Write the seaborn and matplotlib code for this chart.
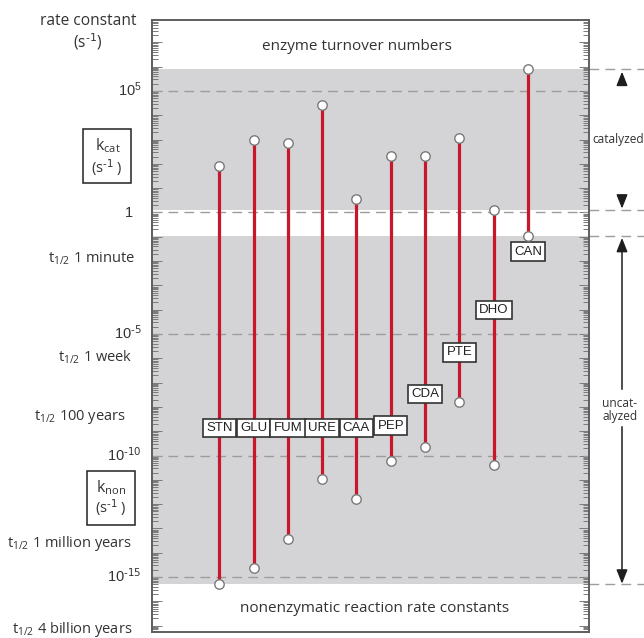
import numpy as np
import pandas as pd
import matplotlib
matplotlib.use("Agg")
import matplotlib.pyplot as plt
import seaborn as sns
from matplotlib.patches import Rectangle
from matplotlib.ticker import FixedLocator, NullFormatter

# ---- data -------------------------------------------------------------
enzymes = ["STN", "GLU", "FUM", "URE", "CAA", "PEP", "CDA", "PTE", "DHO", "CAN"]
# enzyme turnover numbers k_cat (s^-1)
kcat = [8.1e1, 1.0e3, 7.2e2, 2.6e4, 3.5, 2.2e2, 2.2e2, 1.2e3, 1.3, 8.1e5]
# nonenzymatic rate constants k_non (s^-1)
knon = [5.0e-16, 2.4e-15, 3.6e-14, 1.1e-11, 1.7e-12, 6.2e-11, 2.3e-10, 1.6e-8, 4.1e-11, 1.1e-1]

decade_values = [1e5, 1.0, 1e-5, 1e-10, 1e-15]
decade_labels = [r"10$^{5}$", "1", r"10$^{\text{-5}}$", r"10$^{\text{-10}}$", r"10$^{\text{-15}}$"]
halflife_labels = ["1 minute", "1 week", "100 years", "1 million years", "4 billion years"]

# ---- style ------------------------------------------------------------
sns.set_theme(style="white")
plt.rcParams["font.family"] = ["Open Sans", "DejaVu Sans"]
plt.rcParams["mathtext.default"] = "regular"
plt.rcParams["axes.unicode_minus"] = False

W, H = 644, 638
fig = plt.figure(figsize=(W / 100, H / 100), dpi=100)


def fx(px):
    return px / W


def fy(py):
    return 1 - py / H


ax = fig.add_axes([fx(152), fy(632), (589 - 152) / W, (632 - 20) / H])
ax.set_yscale("log")
ax.set_ylim(10 ** -17.26, 10 ** 7.92)
ax.set_xlim(-1.96, 10.78)

GRAY = "#d4d4d6"
RED = "#c8162b"
DASH = "#9c9c9c"

# catalyzed and uncatalyzed ranges
ax.axhspan(min(kcat), max(kcat), color=GRAY, lw=0, zorder=0)
ax.axhspan(min(knon), max(knon), color=GRAY, lw=0, zorder=0)

for v in decade_values:
    ax.axhline(v, color=DASH, lw=1.0, ls=(0, (7, 4.5)), zorder=1)

# stems from k_non up to k_cat
pos = np.arange(len(enzymes))
ax.vlines(pos, knon, kcat, color=RED, lw=2.3, zorder=2)

df = pd.DataFrame({
    "pos": np.concatenate([pos, pos]),
    "rate": np.concatenate([kcat, knon]),
    "kind": ["kcat"] * len(enzymes) + ["knon"] * len(enzymes),
})
sns.scatterplot(data=df, x="pos", y="rate", s=46, color="white",
                edgecolor="#7a7a7a", linewidth=1.0, zorder=5, ax=ax, legend=False)

# name tags along each stem (exponent of the tag centre)
tag_exp = [-8.87, -8.87, -8.87, -8.87, -8.87, -8.77, -7.47, -5.75, -4.01, -1.61]
for i, (name, e) in enumerate(zip(enzymes, tag_exp)):
    ax.text(i, 10 ** e, name, ha="center", va="center", fontsize=9.5,
            family="Liberation Sans", color="#222222", zorder=4,
            bbox=dict(boxstyle="square,pad=0.25", fc="white", ec="#333333", lw=1.2))

# ticks: one long tick per decade, short ticks at 2..9
majors = [10.0 ** k for k in range(-17, 8)]
minors = [m * 10.0 ** k for k in range(-18, 8) for m in range(2, 10)]
ax.yaxis.set_major_locator(FixedLocator(majors))
ax.yaxis.set_minor_locator(FixedLocator(minors))
ax.yaxis.set_major_formatter(NullFormatter())
ax.yaxis.set_minor_formatter(NullFormatter())
ax.tick_params(axis="y", which="both", direction="in", left=True, right=True,
               labelleft=False, labelright=False, color="#7a7a7a", width=0.7)
ax.tick_params(axis="y", which="major", length=7.5)
ax.tick_params(axis="y", which="minor", length=4)
ax.tick_params(axis="x", bottom=False, labelbottom=False)
ax.set_xlabel("")
ax.set_ylabel("")
for sp in ax.spines.values():
    sp.set_visible(True)
    sp.set_color("#5e5e5e")
    sp.set_linewidth(1.4)

ytrans = ax.get_yaxis_transform()

# decade labels
for v, lab in zip(decade_values, decade_labels):
    dx = -13.7 if lab == "1" else -7.4
    ax.annotate(lab, xy=(0, v), xycoords=ytrans, xytext=(dx, -3.6),
                textcoords="offset points", ha="right", va="baseline",
                fontsize=10.5, family="Liberation Sans", color="#333333",
                annotation_clip=False)

# half-life labels
hl_right = [135, 132, 126, 132, 132]
hl_base = [263, 362, 420, 547, 633]
for lab, xr, yb in zip(halflife_labels, hl_right, hl_base):
    fig.text(fx(xr), fy(yb), r"t$_{1/2}$ " + lab, ha="right", va="baseline",
             fontsize=10.5, color="#333333")

# axis title
fig.text(fx(88), fy(21), "rate constant", ha="center", va="center",
         fontsize=11.2, color="#333333")
fig.text(fx(87.5), fy(42), r"(s$^{\text{-1}}$)", ha="center", va="center",
         fontsize=11.2, color="#333333")

# k_cat / k_non boxes
fig.add_artist(Rectangle((fx(83), fy(183)), (131 - 83) / W, (183 - 129) / H,
                         transform=fig.transFigure, fill=False, ec="#222222", lw=1.1))
fig.text(fx(108), fy(146), r"k$_{cat}$", ha="center", va="center", fontsize=11.5, color="#333333")
fig.text(fx(107), fy(167), r"(s$^{\text{-1}}$ )", ha="center", va="center", fontsize=10.5, color="#333333")

fig.add_artist(Rectangle((fx(87), fy(525)), (135 - 87) / W, (525 - 471) / H,
                         transform=fig.transFigure, fill=False, ec="#222222", lw=1.1))
fig.text(fx(111), fy(488), r"k$_{non}$", ha="center", va="center", fontsize=11.5, color="#333333")
fig.text(fx(111), fy(508), r"(s$^{\text{-1}}$ )", ha="center", va="center", fontsize=10.5, color="#333333")

# region captions inside the plot
fig.text(fx(356.5), fy(46), "enzyme turnover numbers",
         ha="center", va="center", fontsize=11, color="#333333")
fig.text(fx(374.5), fy(609), "nonenzymatic reaction rate constants",
         ha="center", va="center", fontsize=11, color="#333333")

# range markers to the right of the axes
for v in [max(kcat), min(kcat), max(knon), min(knon)]:
    ax.plot([1.0, 1.14], [v, v], transform=ytrans, clip_on=False,
            color=DASH, lw=1.0, ls=(0, (7, 4.5)))

xa = (622 - 152) / (589 - 152)
head = dict(arrowstyle="-|>,head_length=0.7,head_width=0.28", color="#1e1e1e",
            lw=1.1, shrinkA=0)
ax.annotate("", xy=(xa, max(kcat)), xycoords=ytrans, xytext=(0, -10),
            textcoords="offset points", annotation_clip=False,
            arrowprops=dict(head, shrinkB=2))
ax.annotate("", xy=(xa, min(kcat)), xycoords=ytrans, xytext=(0, 10),
            textcoords="offset points", annotation_clip=False,
            arrowprops=dict(head, shrinkB=0.8))
kc_mid = np.sqrt(max(kcat) * min(kcat))
ax.text(xa - 0.008, kc_mid, "catalyzed", transform=ytrans, ha="center", va="center",
        fontsize=8.6, color="#333333", clip_on=False)

kn_mid = np.sqrt(max(knon) * min(knon))
ax.annotate("", xy=(xa, max(knon)), xycoords=ytrans, xytext=(xa, kn_mid),
            textcoords=ytrans, annotation_clip=False,
            arrowprops=dict(arrowstyle="-|>,head_length=0.7,head_width=0.28",
                            color="#1e1e1e", lw=1.1, shrinkA=15, shrinkB=1.5))
ax.annotate("", xy=(xa, min(knon)), xycoords=ytrans, xytext=(xa, kn_mid),
            textcoords=ytrans, annotation_clip=False,
            arrowprops=dict(arrowstyle="-|>,head_length=0.7,head_width=0.28",
                            color="#1e1e1e", lw=1.1, shrinkA=12, shrinkB=0.5))
ax.text(xa - 0.005, kn_mid, "uncat-\nalyzed", transform=ytrans, ha="center",
        va="center", fontsize=8.6, color="#333333", linespacing=1.0, clip_on=False)

fig.savefig("out.png", dpi=100)
